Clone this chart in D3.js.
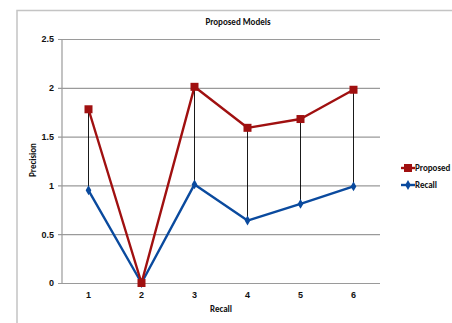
<!DOCTYPE html>
<html>
<head>
<meta charset="utf-8">
<script src="https://cdn.jsdelivr.net/npm/d3@7"></script>
<style>
  html, body { margin: 0; padding: 0; background: #fff; }
  svg { display: block; font-family: Calibri, Carlito, "Liberation Sans", Arial, sans-serif; }
</style>
</head>
<body>
<svg id="chart" width="452" height="323"></svg>
<script>
// Chart data
const categories = ["1", "2", "3", "4", "5", "6"];
const proposedValues = [1.78, 0, 2.01, 1.59, 1.68, 1.98];
const recallValues = [0.95, 0, 1.01, 0.64, 0.81, 0.99];
const yTicks = [0, 0.5, 1, 1.5, 2, 2.5];
const seriesNames = ["Proposed", "Recall"];

const svg = d3.select("#chart");
const W = 452, H = 323;
const plot = { left: 62, right: 380, top: 39, bottom: 283 };

const red = "#A01010";
const blue = "#0A4A9E";

// Outer chart frame
svg.append("path")
  .attr("d", `M17,${H + 2} L17,10.5 L${W + 2},10.5`)
  .attr("fill", "none")
  .attr("stroke", "#c4c4c4")
  .attr("stroke-width", 1.5);

const x = d3.scaleBand().domain(categories).range([plot.left, plot.right]);
const y = d3.scaleLinear().domain([0, 2.5]).range([plot.bottom, plot.top]);
const cx = c => x(c) + x.bandwidth() / 2;

// Horizontal gridlines with short tick stubs
const yAxis = d3.axisLeft(y).tickValues(yTicks)
  .tickSize(-(plot.right - plot.left)).tickPadding(7)
  .tickFormat(d => d === 0 ? "0" : String(d));
const gy = svg.append("g").attr("transform", `translate(${plot.left},0)`).call(yAxis);
gy.select(".domain").remove();
gy.selectAll(".tick line").attr("stroke", "#9a9a9a").attr("stroke-width", 1.2)
  .attr("x1", -4);
gy.selectAll(".tick text").attr("font-size", 9).attr("font-weight", "bold")
  .attr("fill", "#111").attr("dx", -1);

// Vertical axis line
svg.append("line")
  .attr("x1", plot.left).attr("x2", plot.left)
  .attr("y1", plot.top).attr("y2", plot.bottom)
  .attr("stroke", "#9a9a9a").attr("stroke-width", 1.2);

// Category labels
const xAxis = d3.axisBottom(x).tickSize(0).tickPadding(9);
const gx = svg.append("g").attr("transform", `translate(0,${plot.bottom})`).call(xAxis);
gx.select(".domain").remove();
gx.selectAll(".tick text").attr("font-size", 9).attr("font-weight", "bold").attr("fill", "#111");

// High-low connectors between the two series
svg.append("g").selectAll("line")
  .data(categories)
  .join("line")
  .attr("x1", d => cx(d)).attr("x2", d => cx(d))
  .attr("y1", (d, i) => y(proposedValues[i]))
  .attr("y2", (d, i) => y(recallValues[i]))
  .attr("stroke", "#000").attr("stroke-width", 0.9);

const line = d3.line().x(d => cx(d.c)).y(d => y(d.v));
const recallPts = categories.map((c, i) => ({ c, v: recallValues[i] }));
const proposedPts = categories.map((c, i) => ({ c, v: proposedValues[i] }));

// Recall series
svg.append("path").datum(recallPts).attr("d", line)
  .attr("fill", "none").attr("stroke", blue).attr("stroke-width", 2.4)
  .attr("stroke-linejoin", "round");
svg.append("g").selectAll("path").data(recallPts).join("path")
  .attr("d", d3.symbol(d3.symbolDiamond, 28))
  .attr("transform", d => `translate(${cx(d.c)},${y(d.v)})`)
  .attr("fill", blue);

// Proposed series
svg.append("path").datum(proposedPts).attr("d", line)
  .attr("fill", "none").attr("stroke", red).attr("stroke-width", 2.4)
  .attr("stroke-linejoin", "round");
svg.append("g").selectAll("rect").data(proposedPts).join("rect")
  .attr("x", d => cx(d.c) - 4).attr("y", d => y(d.v) - 4)
  .attr("width", 8).attr("height", 8)
  .attr("fill", red);

// Title and axis titles
svg.append("text").attr("x", 238).attr("y", 25).attr("text-anchor", "middle")
  .attr("font-size", 9).attr("font-weight", "bold").attr("fill", "#111")
  .text("Proposed Models");
svg.append("text").attr("x", 221).attr("y", 312).attr("text-anchor", "middle")
  .attr("font-size", 9).attr("font-weight", "bold").attr("fill", "#111")
  .text("Recall");
svg.append("text")
  .attr("transform", "translate(36,160) rotate(-90)")
  .attr("text-anchor", "middle")
  .attr("font-size", 9).attr("font-weight", "bold").attr("fill", "#111")
  .text("Precision");

// Legend
const legend = svg.append("g");
const legendRows = [
  { name: seriesNames[0], color: red, shape: "square", y: 168 },
  { name: seriesNames[1], color: blue, shape: "diamond", y: 185 }
];
legendRows.forEach(r => {
  legend.append("line").attr("x1", 401).attr("x2", 415)
    .attr("y1", r.y).attr("y2", r.y)
    .attr("stroke", r.color).attr("stroke-width", 2.4);
  if (r.shape === "square") {
    legend.append("rect").attr("x", 404).attr("y", r.y - 4)
      .attr("width", 8).attr("height", 8).attr("fill", r.color);
  } else {
    legend.append("path").attr("d", d3.symbol(d3.symbolDiamond, 28))
      .attr("transform", `translate(408,${r.y})`).attr("fill", r.color);
  }
  legend.append("text").attr("x", 415).attr("y", r.y + 3)
    .attr("font-size", 9).attr("font-weight", "bold").attr("fill", "#111")
    .text(r.name);
});
</script>
</body>
</html>
